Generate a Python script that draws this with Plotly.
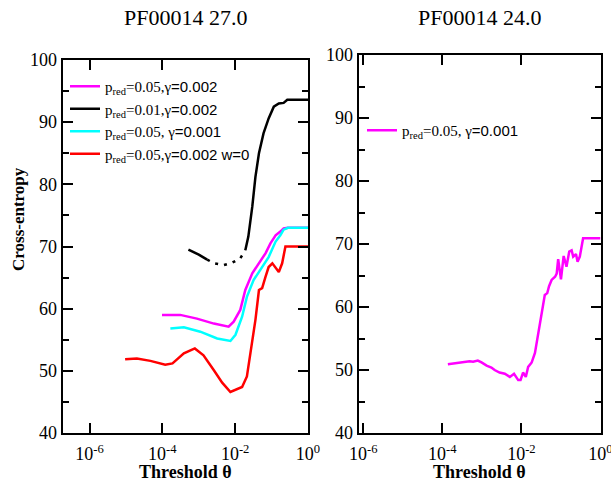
import plotly.graph_objects as go

# ---------------- data ----------------
# Left panel: PF00014 27.0
mag_theta = [9.8e-5, 3.1e-4, 8.9e-4, 2.6e-3, 6.6e-3, 9.1e-3, 1.38e-2, 1.9e-2, 2.95e-2,
             4.5e-2, 6.8e-2, 9.3e-2, 0.129, 0.174, 0.214, 0.28, 1.0]
mag_ce = [59.0, 59.0, 58.4, 57.6, 57.1, 57.9, 59.8, 63.0, 65.7,
          67.3, 68.9, 70.5, 71.8, 72.4, 72.9, 73.0, 73.0]

blk_theta = [5.2e-4, 1.0e-3, 1.7e-3, None, 1.9e-2, 2.3e-2, 2.95e-2, 3.6e-2, 4.5e-2,
             6.0e-2, 8.3e-2, 0.115, 0.158, 0.214, 0.27, 1.0]
blk_ce = [69.5, 68.7, 67.9, None, 69.4, 71.6, 76.4, 81.2, 85.0,
          88.2, 90.6, 92.5, 93.0, 93.1, 93.6, 93.6]
blk_gap_theta = [1.7e-3, 2.6e-3, 4.8e-3, 8.3e-3, 1.38e-2, 1.9e-2]
blk_gap_ce = [67.9, 67.3, 67.0, 67.4, 68.1, 69.4]

cyan_theta = [1.66e-4, 3.9e-4, 1.1e-3, 3.2e-3, 7.4e-3, 1.02e-2, 1.55e-2, 2.1e-2, 3.2e-2,
              5.5e-2, 8.3e-2, 0.129, 0.174, 0.214, 0.28, 1.0]
cyan_ce = [56.8, 57.0, 56.3, 55.2, 54.8, 55.8, 58.7, 61.9, 64.6,
           66.7, 68.3, 70.8, 71.8, 72.7, 73.0, 73.0]

red_theta = [9.5e-6, 2.0e-5, 4.7e-5, 1.2e-4, 1.9e-4, 3.9e-4, 7.8e-4, 1.35e-3, 2.6e-3,
             4.4e-3, 7.4e-3, 1.02e-2, 1.55e-2, 2.1e-2, 2.6e-2, 3.6e-2, 4.5e-2, 5.5e-2,
             6.8e-2, 8.3e-2, 0.105, 0.129, 0.158, 0.195, 0.24, 1.0]
red_ce = [51.85, 52.0, 51.6, 51.0, 51.2, 52.8, 53.6, 52.5, 50.1,
          48.1, 46.6, 46.9, 47.4, 49.1, 52.8, 58.2, 63.0, 63.3,
          65.1, 66.7, 67.3, 66.5, 65.9, 67.3, 70.0, 70.0]

# Right panel: PF00014 24.0
r_theta = [1.38e-4, 2.2e-4, 3.3e-4, 4.9e-4, 6.0e-4, 7.9e-4, 9.8e-4, 1.32e-3, 1.74e-3,
           2.1e-3, 2.8e-3, 3.8e-3, 5.1e-3, 6.5e-3, 8.3e-3, 9.5e-3, 1.10e-2, 1.29e-2,
           1.48e-2, 1.82e-2, 2.2e-2, 2.6e-2, 3.2e-2, 3.9e-2, 4.5e-2, 5.0e-2, 5.8e-2,
           7.1e-2, 7.8e-2, 8.5e-2, 0.100, 0.117, 0.138, 0.162, 0.186, 0.204, 0.24,
           0.263, 0.30, 0.363, 1.0]
r_ce = [50.9, 51.1, 51.3, 51.4, 51.3, 51.5, 51.2, 50.7, 50.4,
        50.0, 49.6, 49.4, 48.9, 49.4, 48.4, 48.4, 49.6, 48.9,
        50.5, 51.2, 52.7, 55.3, 58.5, 61.9, 62.2, 63.3, 64.3,
        64.8, 65.3, 67.6, 64.4, 68.1, 66.4, 68.8, 69.0, 68.0, 68.4,
        67.2, 68.0, 70.9, 70.9]

x_tickvals = [1e-6, 1e-4, 1e-2, 1]
x_ticktext = ["10<sup>-6</sup>", "10<sup>-4</sup>", "10<sup>-2</sup>", "10<sup>0</sup>"]

titles = ["PF00014 27.0", "PF00014 24.0"]
ytitle = "Cross-entropy"
xtitle = "Threshold θ"

SERIF = "Liberation Serif, Times New Roman, Times, serif"


def sans(t):
    return '<span style="font-family:Liberation Sans, Arial, sans-serif">' + t + '</span>'


names = [
    "p<sub>red</sub>=0.05,γ" + sans("=0.002"),
    "p<sub>red</sub>=0.01,γ" + sans("=0.002"),
    "p<sub>red</sub>=0.05, γ" + sans("=0.001"),
    "p<sub>red</sub>=0.05,γ" + sans("=0.002 w=0"),
]
name_right = "p<sub>red</sub>=0.05, γ" + sans("=0.001")

W, H = 611, 483
LW = 2.5

fig = go.Figure()
fig.add_trace(go.Scatter(x=mag_theta, y=mag_ce, mode="lines", name=names[0],
                         line=dict(color="#ff00ff", width=LW), legendgroup="a",
                         xaxis="x", yaxis="y", legend="legend"))
fig.add_trace(go.Scatter(x=blk_theta, y=blk_ce, mode="lines", name=names[1],
                         line=dict(color="black", width=LW), legendgroup="b",
                         connectgaps=False, xaxis="x", yaxis="y", legend="legend"))
fig.add_trace(go.Scatter(x=blk_gap_theta, y=blk_gap_ce, mode="lines", showlegend=False,
                         line=dict(color="black", width=LW, dash="3px,6px"),
                         legendgroup="b", xaxis="x", yaxis="y"))
fig.add_trace(go.Scatter(x=cyan_theta, y=cyan_ce, mode="lines", name=names[2],
                         line=dict(color="#00ffff", width=LW), legendgroup="c",
                         xaxis="x", yaxis="y", legend="legend"))
fig.add_trace(go.Scatter(x=red_theta, y=red_ce, mode="lines", name=names[3],
                         line=dict(color="#ff0000", width=LW), legendgroup="d",
                         xaxis="x", yaxis="y", legend="legend"))
fig.add_trace(go.Scatter(x=r_theta, y=r_ce, mode="lines", name=name_right,
                         line=dict(color="#ff00ff", width=LW),
                         xaxis="x2", yaxis="y2", legend="legend2"))


def xax(domain, rng, anchor):
    return dict(type="log", range=rng, domain=domain, anchor=anchor, automargin=False,
                showline=True, mirror="ticks", linecolor="black", linewidth=1.5,
                ticks="inside", ticklen=10, tickwidth=1.5, tickcolor="black",
                tickvals=x_tickvals, ticktext=x_ticktext, ticklabelstandoff=4,
                ticklabeloverflow="allow",
                tickfont=dict(family=SERIF, size=18, color="black"),
                showgrid=False, zeroline=False)


def yax(domain, anchor):
    return dict(range=[40, 100], domain=domain, anchor=anchor, automargin=False,
                showline=True, mirror="ticks", linecolor="black", linewidth=1.5,
                ticks="inside", ticklen=10, tickwidth=1.5, tickcolor="black",
                tick0=40, dtick=10, ticklabelstandoff=1,
                minor=dict(ticks="inside", ticklen=6, tickwidth=1.5, tickcolor="black",
                           dtick=5, showgrid=False),
                tickfont=dict(family=SERIF, size=18, color="black"),
                showgrid=False, zeroline=False)


L = dict(x0=63.3, x1=308.0, y0=60.0, y1=433.0)
R = dict(x0=359.3, x1=600.5, y0=55.0, y1=433.0)

legend_common = dict(bgcolor="rgba(0,0,0,0)", borderwidth=0,
                     font=dict(family=SERIF, size=15, color="black"),
                     xanchor="left", yanchor="top", tracegroupgap=0,
                     itemclick=False)

fig.update_layout(
    template="none",
    width=W, height=H,
    margin=dict(l=0, r=0, t=0, b=0, pad=0, autoexpand=False),
    paper_bgcolor="white", plot_bgcolor="white",
    font=dict(family=SERIF, color="black"),
    xaxis=xax([L["x0"] / W, L["x1"] / W], [-6.72, 0], "y"),
    yaxis=yax([1 - L["y1"] / H, 1 - L["y0"] / H], "x"),
    xaxis2=xax([R["x0"] / W, R["x1"] / W], [-6.1, 0], "y2"),
    yaxis2=yax([1 - R["y1"] / H, 1 - R["y0"] / H], "x2"),
    legend=dict(x=65 / W, y=1 - 70 / H, **legend_common),
    legend2=dict(x=362 / W, y=1 - 114 / H, **legend_common),
    showlegend=True,
)

ann = []
for t, p in zip(titles, [L, R]):
    ann.append(dict(text=t, x=(p["x0"] + p["x1"]) / 2 / W, y=1 - 17 / H,
                    xref="paper", yref="paper", showarrow=False,
                    xanchor="center", yanchor="middle",
                    font=dict(family=SERIF, size=22, color="black")))
    ann.append(dict(text="<b>" + xtitle + "</b>", x=(p["x0"] + p["x1"]) / 2 / W,
                    y=1 - 472 / H, xref="paper", yref="paper", showarrow=False,
                    xanchor="center", yanchor="middle",
                    font=dict(family=SERIF, size=18, color="black")))
ann.append(dict(text="<b>" + ytitle + "</b>", x=18 / W, y=1 - 219 / H,
                xref="paper", yref="paper", showarrow=False, textangle=-90,
                xanchor="center", yanchor="middle",
                font=dict(family=SERIF, size=17, color="black")))
fig.update_layout(annotations=ann)

fig.write_html("out.html")
